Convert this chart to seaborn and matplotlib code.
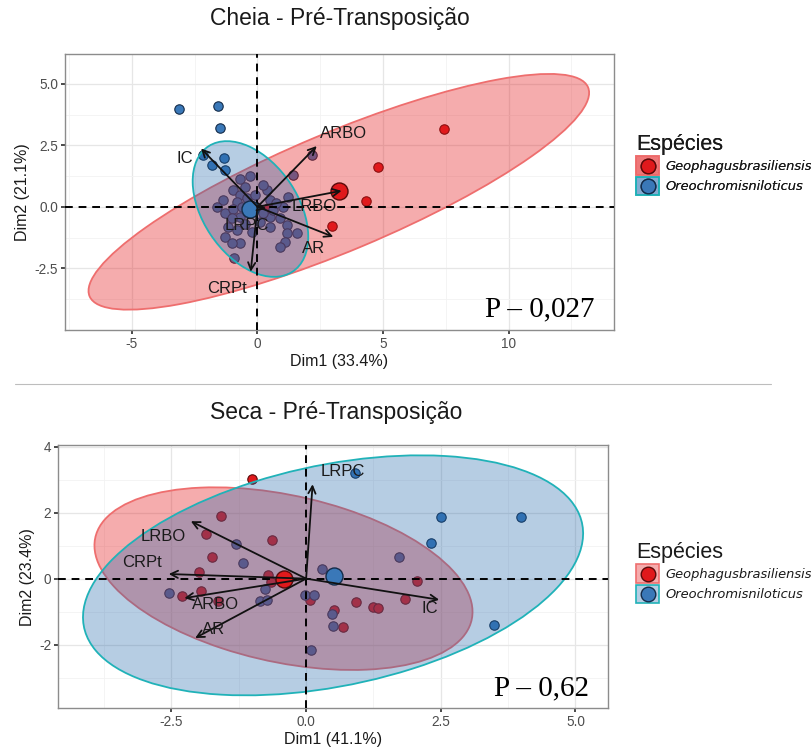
import numpy as np
import pandas as pd
import matplotlib
matplotlib.use("Agg")
import matplotlib.pyplot as plt
import seaborn as sns
from matplotlib.patches import Ellipse, Rectangle
from matplotlib.lines import Line2D
from matplotlib.legend_handler import HandlerBase
from matplotlib.colors import to_rgba
from matplotlib.ticker import FixedLocator

# ---------------- data ----------------
species = ["Geophagusbrasiliensis", "Oreochromisniloticus"]

# Cheia - Pre-Transposicao
cheia_geo_x = [7.43, 4.79, 4.31, 2.96, 0.40]
cheia_geo_y = [3.15, 1.60, 0.24, -0.78, -0.05]
cheia_ore_x = [-3.12, -1.56, -1.49, -2.16, -1.82, -1.33, -1.29, -0.92,
               -0.70, -0.30, -0.50, -0.96, -0.70, -1.36, -0.83, -0.43, 0.37, 0.50,
               1.23, 1.43, 2.16, -1.63, -1.29, -0.96, -0.70, -1.16, -1.29, -0.83,
               -0.50, -0.23, -0.70, -1.03, 0.50, 0.90, 1.16, 1.56, 1.16, 1.10, 0.90,
               0.63, 1.03, 0.23, 0.10, 0.50, -0.63, 0.20, -0.10, -1.00, 0.75, -0.40]
cheia_ore_y = [3.98, 4.09, 3.20, 2.10, 1.70, 1.98, 1.49, -2.09,
               1.11, 1.25, 0.81, 0.68, 0.48, 0.27, 0.20, 0.34, 0.68, 0.27,
               0.41, 1.29, 2.10, 0.00, -0.27, -0.07, -0.41, -0.81, -1.22, -0.95,
               -0.68, -1.02, -1.49, -1.49, -0.41, -0.47, -0.74, -1.08, -1.08, -1.42, -1.63,
               -0.13, 0.00, -0.27, -0.61, -0.81, 0.00, 0.90, 0.50, -0.45, 0.15, -0.20]
cheia_mean_x = [3.26, -0.30]
cheia_mean_y = [0.64, -0.07]
# ellipses: centre x, centre y, full width, full height, angle (deg)
cheia_ell_cx = [3.24, -0.28]
cheia_ell_cy = [0.61, -0.09]
cheia_ell_w = [21.6, 6.1]
cheia_ell_h = [4.8, 3.8]
cheia_ell_ang = [23.2, -57.0]
cheia_vars = ["ARBO", "IC", "LRBO", "LRPC", "AR", "CRPt"]
cheia_var_x = [2.36, -2.25, 3.35, 0.35, 3.02, -0.27]
cheia_var_y = [2.47, 2.37, 0.65, -0.08, -1.22, -2.64]
cheia_lab_x = [3.42, -2.89, 2.25, -0.43, 2.22, -1.23]
cheia_lab_y = [2.98, 1.97, 0.00, -0.74, -1.69, -3.32]
cheia_xticks = [-5, 0, 5, 10]
cheia_yticks = [-2.5, 0.0, 2.5, 5.0]
cheia_xlabels = ["-5", "0", "5", "10"]
cheia_ylabels = ["-2.5", "0.0", "2.5", "5.0"]

# Seca - Pre-Transposicao
seca_geo_x = [-1.01, -1.58, -1.86, -0.63, -1.74, -1.99, -0.71, -0.66, -1.95, -2.31,
              -1.63, 0.07, 0.51, 0.69, 0.93, 1.25, 1.33, 2.06, 1.84]
seca_geo_y = [3.03, 1.89, 1.34, 1.17, 0.67, 0.21, 0.10, -0.10, -0.38, -0.54,
              -0.69, -0.64, -0.96, -1.48, -0.71, -0.85, -0.90, -0.06, -0.62]
seca_ore_x = [-1.31, -1.18, -2.55, -0.76, -0.85, -0.73, -0.02, 0.14, 0.48, 0.49,
              0.09, 0.29, 0.91, 1.72, 2.50, 3.98, 2.32, 3.49]
seca_ore_y = [1.05, 0.46, -0.44, -0.30, -0.69, -0.64, -0.49, -0.50, -1.06, -1.43,
              -2.16, 0.30, 3.21, 0.66, 1.86, 1.86, 1.08, -1.42]
seca_mean_x = [-0.41, 0.51]
seca_mean_y = [-0.01, 0.09]
seca_ell_cx = [-0.42, 0.50]
seca_ell_cy = [0.00, 0.10]
seca_ell_w = [7.54, 9.92]
seca_ell_h = [4.80, 6.38]
seca_ell_ang = [-28.3, 27.4]
seca_vars = ["LRPC", "LRBO", "CRPt", "ARBO", "AR", "IC"]
seca_var_x = [0.12, -2.14, -2.55, -2.26, -2.06, 2.47]
seca_var_y = [2.86, 1.74, 0.14, -0.59, -1.80, -0.64]
seca_lab_x = [0.69, -2.65, -3.05, -1.69, -1.72, 2.30]
seca_lab_y = [3.26, 1.29, 0.50, -0.79, -1.55, -0.89]
seca_xticks = [-2.5, 0.0, 2.5, 5.0]
seca_yticks = [-2, 0, 2, 4]
seca_xlabels = ["-2.5", "0.0", "2.5", "5.0"]
seca_ylabels = ["-2", "0", "2", "4"]

# ---------------- style ----------------
sns.set_theme(style="whitegrid")
plt.rcParams["font.family"] = ["Liberation Sans", "DejaVu Sans"]

PT_COL = {species[0]: "#E0191C", species[1]: "#3A78B8"}
PT_EDGE = {species[0]: "#5A0A0A", species[1]: "#142C4A"}
ELL_FILL = ["#E41A1C", "#1E64AA"]
ELL_ALPHA = [0.36, 0.32]
ELL_EDGE = ["#EE6E6E", "#20B2B8"]

fig = plt.figure(figsize=(8.11, 7.54), dpi=100)
ax_top = fig.add_axes([0.0801, 0.5623, 0.6769, 0.3660])
ax_bot = fig.add_axes([0.0719, 0.0606, 0.6782, 0.3492])


def panel(ax, gx, gy, ox, oy, mx, my, ecx, ecy, ew, eh, ea, vars_, vx, vy, lx, ly,
          xt, yt, xtl, ytl, xlim, ylim, xminor, yminor, xlabel, ylabel, ptext):
    df = pd.DataFrame({
        "x": list(gx) + list(ox),
        "y": list(gy) + list(oy),
        "sp": [species[0]] * len(gx) + [species[1]] * len(ox),
    })
    for sp in species:
        sub = df[df.sp == sp]
        sns.scatterplot(data=sub, x="x", y="y", ax=ax, color=PT_COL[sp], s=46,
                        edgecolor=PT_EDGE[sp], linewidth=0.8, legend=False, zorder=3)
    for i in range(2):
        ax.add_patch(Ellipse((ecx[i], ecy[i]), ew[i], eh[i], angle=ea[i],
                             facecolor=ELL_FILL[i], alpha=ELL_ALPHA[i], edgecolor="none",
                             zorder=4))
        ax.add_patch(Ellipse((ecx[i], ecy[i]), ew[i], eh[i], angle=ea[i],
                             facecolor="none", edgecolor=ELL_EDGE[i], lw=1.3, zorder=4))
    ax.axhline(0, color="black", ls=(0, (4, 3)), lw=1.4, zorder=5)
    ax.axvline(0, color="black", ls=(0, (4, 3)), lw=1.4, zorder=5)
    for i, sp in enumerate(species):
        ax.scatter([mx[i]], [my[i]], s=150, color=PT_COL[sp], edgecolor=PT_EDGE[sp],
                   linewidth=1.0, zorder=6)
    for name, x, y, tx, ty in zip(vars_, vx, vy, lx, ly):
        ax.annotate("", xy=(x, y), xytext=(0, 0),
                    arrowprops=dict(arrowstyle="->", lw=1.3, color="#111111",
                                    shrinkA=0, shrinkB=0, mutation_scale=13), zorder=7)
        ax.text(tx, ty, name, fontsize=12, color="#1a1a1a", ha="center", va="center",
                zorder=8)
    ax.set_xlim(*xlim)
    ax.set_ylim(*ylim)
    ax.set_xticks(xt)
    ax.set_xticklabels(xtl)
    ax.set_yticks(yt)
    ax.set_yticklabels(ytl)
    ax.xaxis.set_minor_locator(FixedLocator(xminor))
    ax.yaxis.set_minor_locator(FixedLocator(yminor))
    ax.grid(which="major", color="#E6E6E6", lw=0.9)
    ax.grid(which="minor", color="#F2F2F2", lw=0.6)
    ax.set_axisbelow(True)
    ax.tick_params(axis="both", which="major", labelsize=9.8, labelcolor="#4D4D4D",
                   length=3, color="#333333", bottom=True, left=True, pad=2)
    ax.tick_params(which="minor", length=0)
    for s in ax.spines.values():
        s.set_edgecolor("#8C8C8C")
        s.set_linewidth(1.0)
    ax.set_xlabel(xlabel, fontsize=11.5, color="#1a1a1a", labelpad=2)
    ax.set_ylabel(ylabel, fontsize=11.5, color="#1a1a1a", labelpad=3)
    ax.text(0.965, 0.048, ptext, transform=ax.transAxes, ha="right", va="baseline",
            fontsize=21, family="Liberation Serif", color="black", zorder=9)


panel(ax_top, cheia_geo_x, cheia_geo_y, cheia_ore_x, cheia_ore_y,
      cheia_mean_x, cheia_mean_y, cheia_ell_cx, cheia_ell_cy, cheia_ell_w, cheia_ell_h,
      cheia_ell_ang, cheia_vars, cheia_var_x, cheia_var_y, cheia_lab_x, cheia_lab_y,
      cheia_xticks, cheia_yticks, cheia_xlabels, cheia_ylabels,
      (-7.67, 14.2), (-5.01, 6.21), [-7.5, -2.5, 2.5, 7.5, 12.5], [-3.75, -1.25, 1.25, 3.75],
      "Dim1 (33.4%)", "Dim2 (21.1%)", "P – 0,027")

panel(ax_bot, seca_geo_x, seca_geo_y, seca_ore_x, seca_ore_y,
      seca_mean_x, seca_mean_y, seca_ell_cx, seca_ell_cy, seca_ell_w, seca_ell_h,
      seca_ell_ang, seca_vars, seca_var_x, seca_var_y, seca_lab_x, seca_lab_y,
      seca_xticks, seca_yticks, seca_xlabels, seca_ylabels,
      (-4.6, 5.61), (-3.93, 4.05), [-3.75, -1.25, 1.25, 3.75], [-3, -1, 1, 3],
      "Dim1 (41.1%)", "Dim2 (23.4%)", "P – 0,62")

fig.text(340 / 811, 1 - 18 / 754, "Cheia - Pré-Transposição", ha="center", va="center",
         fontsize=16.5, color="#1a1a1a")
fig.text(336 / 811, 1 - 412 / 754, "Seca - Pré-Transposição", ha="center", va="center",
         fontsize=16.5, color="#1a1a1a")

# separator line
fig.add_artist(Line2D([15 / 811, 771 / 811], [1 - 384 / 754, 1 - 384 / 754],
                      color="#BDBDBD", lw=0.8))


class KeyHandle:
    def __init__(self, fill, edge, dot, dotedge):
        self.fill, self.edge, self.dot, self.dotedge = fill, edge, dot, dotedge


class KeyHandler(HandlerBase):
    def create_artists(self, legend, h, xdescent, ydescent, width, height, fontsize, trans):
        rect = Rectangle((-xdescent, -ydescent), width, height, facecolor=h.fill,
                         edgecolor=h.edge, lw=1.2, transform=trans)
        dot = Line2D([-xdescent + width / 2], [-ydescent + height / 2], marker="o",
                     ls="none", markersize=10.5, markerfacecolor=h.dot,
                     markeredgecolor=h.dotedge, markeredgewidth=1.0, transform=trans)
        return [rect, dot]


def make_legend(y_top):
    handles = []
    for i, sp in enumerate(species):
        handles.append(KeyHandle(to_rgba(ELL_FILL[i], ELL_ALPHA[i]), ELL_EDGE[i],
                                 PT_COL[sp], PT_EDGE[sp]))
    leg = fig.legend(handles, species, handler_map={KeyHandle: KeyHandler()},
                     title="Espécies", loc="upper left",
                     bbox_to_anchor=(632 / 811, 1 - y_top / 754),
                     frameon=False, fontsize=9.4, title_fontsize=15.5,
                     handlelength=1.8, handleheight=1.8, labelspacing=0.12,
                     handletextpad=0.45, borderaxespad=0, borderpad=0.3)
    for t in leg.get_texts():
        t.set_fontstyle("italic")
        t.set_family(["DejaVu Sans"])
        t.set_color("#1a1a1a")
    leg.get_title().set_color("#1a1a1a")
    leg._legend_box.align = "left"
    return leg


leg1 = make_legend(130)
leg2 = make_legend(538)
fig.add_artist(leg1)

fig.savefig("out.png", dpi=100)
